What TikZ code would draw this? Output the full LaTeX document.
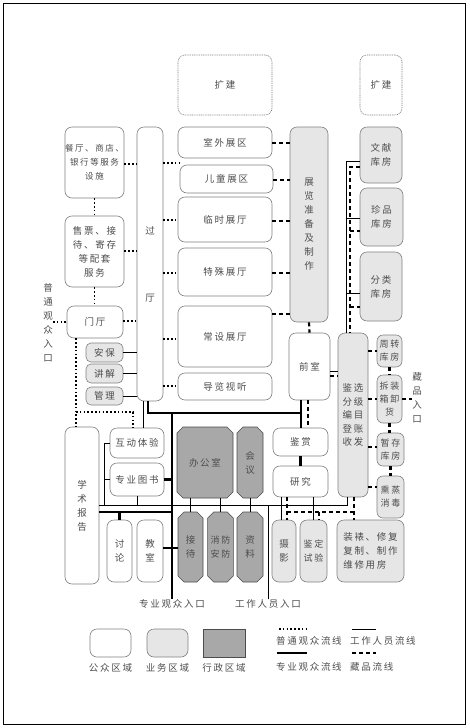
\documentclass[tikz,border=0pt]{standalone}
\usepackage{fontspec}
\newfontfamily\cjk[LetterSpace=18]{Noto Sans CJK SC}
\usetikzlibrary{shapes.misc}

\definecolor{busfill}{HTML}{E6E6E6}
\definecolor{admfill}{HTML}{A8A8A8}
\definecolor{zoneline}{HTML}{808080}
\definecolor{zonetext}{HTML}{4D4D4D}

\tikzset{
    zone/.style={draw=zoneline, line width=0.6pt, rounded corners=7pt,
        align=center, inner sep=0pt, text=zonetext,
        font=\cjk\fontsize{9.5}{14}\selectfont},
    pubzone/.style={zone, fill=white},
    buszone/.style={zone, fill=busfill},
    admzone/.style={zone, fill=admfill, draw=gray!60!black, sharp corners,
        chamfered rectangle, chamfered rectangle xsep=3pt,
        chamfered rectangle ysep=3pt},
    extzone/.style={zone, draw=gray, dash pattern=on 1pt off 0.8pt},
    roomtag/.style={text=zonetext, inner sep=0pt, align=center,
        font=\cjk\fontsize{9.5}{14}\selectfont},
    pubflow/.style={line width=1.6pt, dash pattern=on 1.6pt off 2.2pt},
    staffflow/.style={line width=0.8pt},
    proflow/.style={line width=2.8pt},
    colflow/.style={line width=2.2pt, dash pattern=on 4pt off 3pt},
}

\begin{document}
\begin{tikzpicture}[x=1pt, y=-1pt]
    \useasboundingbox (0,0) rectangle (470,728);
    % -- outer frame ---------------------------------------------------------
    \draw[line width=0.9pt] (3,3) rectangle (465,724);

    % -- extension plots -----------------------------------------------------
    \node[extzone, minimum width=94pt, minimum height=60pt] (ext1) at (225,85) {扩建};
    \node[extzone, minimum width=42pt, minimum height=60pt] (ext2) at (381,85) {扩建};

    % -- public services and foyer -------------------------------------------
    \node[pubzone, minimum width=59pt, minimum height=71pt,
        font=\cjk\fontsize{8.5}{14}\selectfont] (cant) at (94.5,162.5) {餐厅、商店、\\银行等服务\\设施};
    \node[pubzone, minimum width=59pt, minimum height=71pt] (tick) at (94.5,251.5) {售票、接\\待、寄存\\等配套\\服务};
    \node[pubzone, minimum width=56pt, minimum height=32pt] (foyer) at (95,322) {门厅};
    \node[buszone, rounded corners=5pt, minimum width=37pt, minimum height=19pt] (sec) at (104.5,352.5) {安保};
    \node[buszone, rounded corners=5pt, minimum width=37pt, minimum height=19pt] (guide) at (104.5,373.5) {讲解};
    \node[buszone, rounded corners=5pt, minimum width=37pt, minimum height=18pt] (mgmt) at (104.5,396) {管理};
    \node[pubzone, minimum width=26pt, minimum height=274pt] (hall) at (150,264) {过\\[53pt]厅};

    % -- exhibition halls ----------------------------------------------------
    \node[pubzone, minimum width=94pt, minimum height=31pt] (outd) at (225,142.5) {室外展区};
    \node[pubzone, minimum width=93pt, minimum height=28pt] (kids) at (226.5,179) {儿童展区};
    \node[pubzone, minimum width=94pt, minimum height=45pt] (temp) at (225,219.5) {临时展厅};
    \node[pubzone, minimum width=94pt, minimum height=48pt] (spec) at (225,272) {特殊展厅};
    \node[pubzone, minimum width=94pt, minimum height=61pt] (perm) at (225,336.5) {常设展厅};
    \node[pubzone, minimum width=94pt, minimum height=27pt] (av) at (225,386.5) {导览视听};
    \node[buszone, minimum width=38pt, minimum height=195pt] (prep) at (309,224.5) {展\\览\\准\\备\\及\\制\\作};

    % -- research block ------------------------------------------------------
    \node[pubzone, minimum width=41pt, minimum height=67pt] (ante) at (309.5,366.5) {前室};
    \node[pubzone, minimum width=55pt, minimum height=28pt] (appr) at (300.5,442) {鉴赏};
    \node[pubzone, minimum width=55pt, minimum height=31pt] (res) at (300.5,481.5) {研究};
    \node[buszone, minimum width=30pt, minimum height=164pt, font=\cjk\fontsize{9.5}{13.5}\selectfont] (catal) at (353,415) {鉴选\\分级\\编目\\登账\\收发};

    % -- stores --------------------------------------------------------------
    \node[buszone, minimum width=42pt, minimum height=56pt] (doc) at (381,155) {文献\\库房};
    \node[buszone, minimum width=43pt, minimum height=58pt] (rare) at (381.5,217) {珍品\\库房};
    \node[buszone, minimum width=42pt, minimum height=69pt] (class) at (381,286.5) {分类\\库房};
    \node[buszone, rounded corners=6pt, minimum width=25pt, minimum height=32pt, font=\cjk\fontsize{9}{13}\selectfont] (turn) at (389.5,351) {周转\\库房};
    \node[buszone, rounded corners=6pt, minimum width=25pt, minimum height=48pt, font=\cjk\fontsize{9}{13}\selectfont] (unpk) at (389.5,399) {拆装\\箱卸\\货};
    \node[buszone, rounded corners=6pt, minimum width=27pt, minimum height=33pt, font=\cjk\fontsize{9}{13}\selectfont] (hold) at (390.5,449.5) {暂存\\库房};
    \node[buszone, rounded corners=6pt, minimum width=27pt, minimum height=42pt, font=\cjk\fontsize{9}{13}\selectfont] (fumi) at (390.5,497) {熏蒸\\消毒};

    % -- lower wing ----------------------------------------------------------
    \node[pubzone, minimum width=34pt, minimum height=157pt] (lect) at (82,505.5) {学\\术\\报\\告};
    \node[pubzone, minimum width=54pt, minimum height=30pt] (inter) at (137,443) {互动体验};
    \node[pubzone, minimum width=54pt, minimum height=33pt] (lib) at (137,479.5) {专业图书};
    \node[pubzone, minimum width=25pt, minimum height=62pt] (disc) at (119.5,551) {讨\\论};
    \node[pubzone, minimum width=26pt, minimum height=62pt] (room) at (150,551) {教\\室};
    \node[admzone, minimum width=56pt, minimum height=71pt] (office) at (205,462.5) {办公室};
    \node[admzone, minimum width=26pt, minimum height=71pt] (meet) at (250,462.5) {会\\议};
    \node[admzone, minimum width=25pt, minimum height=70pt] (recp) at (190.5,547) {接\\待};
    \node[admzone, minimum width=25pt, minimum height=70pt, font=\cjk\fontsize{9}{14}\selectfont] (fire) at (220.5,547) {消防\\安防};
    \node[admzone, minimum width=26pt, minimum height=70pt] (arch) at (250,547) {资\\料};
    \node[buszone, minimum width=24pt, minimum height=62pt] (photo) at (284,551) {摄\\影};
    \node[buszone, minimum width=27pt, minimum height=62pt, font=\cjk\fontsize{9}{14}\selectfont] (test) at (313.5,551) {鉴定\\试验};
    \node[buszone, minimum width=67pt, minimum height=62pt, align=left] (repair) at (370.5,551) {装裱、修复\\复制、制作\\维修用房};

    % -- entrances -----------------------------------------------------------
    \node[roomtag] (entpub) at (48,323) {普\\通\\观\\众\\入\\口};
    \node[roomtag] (entcol) at (417,398) {藏\\品\\入\\口};
    \node[roomtag] (entpro) at (172,604) {专业观众入口};
    \node[roomtag] (entstaff) at (268,604) {工作人员入口};

    % -- public visitor flow (dotted) ----------------------------------------
    \draw[pubflow] (cant.east |- 0,164) -- (hall.west |- 0,164);
    \draw[pubflow] (tick.east |- 0,251) -- (hall.west |- 0,251);
    \draw[pubflow] (foyer.east |- 0,321) -- (hall.west |- 0,321);
    \draw[pubflow] (hall.east |- 0,163) -- (kids.west |- 0,163);
    \foreach \hallname/\y in {temp/220, spec/273, perm/339, av/386} {
        \draw[pubflow] (hall.east |- 0,\y) -- (\hallname.west |- 0,\y);
    }
    \draw[pubflow] (cant.south) -- (tick.north);
    \draw[pubflow] (tick.south) -- (tick.south |- foyer.north);
    \draw[pubflow] (entpub.east |- foyer.west) -- (foyer.west);
    \coordinate (pubsplit) at (76,412);
    \coordinate (pubturn) at (133,412);
    \draw[pubflow] (foyer.south -| pubsplit) -- (lect.north -| pubsplit);
    \draw[pubflow] (pubsplit) -- (pubturn) -- (pubturn |- inter.north);

    % -- staff flow (thin) ---------------------------------------------------
    \foreach \desk in {sec, guide, mgmt} {
        \draw[staffflow] (\desk.east) -- (\desk.east -| hall.west);
    }
    \draw[staffflow] (hall.south -| 143,0) -- (inter.north -| 143,0);
    \coordinate (staffleft) at (104,505);
    \coordinate (staffright) at (347,505);
    \draw[staffflow] (inter.west) -- (inter.west -| staffleft) -- (staffleft);
    \draw[staffflow] (lib.west) -- (lib.west -| staffleft);
    \draw[staffflow] (lib.south) -- (lib.south |- staffright);
    \draw[staffflow] (lect.east |- staffright) -- (staffright) -- (staffright |- catal.south);
    \draw[staffflow] (recp.north) -- (recp.north |- office.south);
    \draw[staffflow] (fire.north) -- (fire.north |- office.south);
    \draw[staffflow] (arch.north) -- (meet.south);
    \draw[staffflow] (entstaff.north) -- (entstaff.north |- staffright);
    \draw[staffflow] (res.south -| 281,0) -- (photo.north -| 281,0);
    \draw[staffflow] (res.south -| 313,0) -- (test.north -| 313,0);
    \draw[staffflow] (ante.east |- 0,371) -- (catal.west |- 0,371);
    \coordinate (stafftop) at (346,161);
    \draw[staffflow] (doc.west |- stafftop) -- (stafftop) -- (stafftop |- catal.north);
    \draw[staffflow] (stafftop |- 0,218) -- (rare.west |- 0,218);
    \draw[staffflow] (stafftop |- 0,293) -- (class.west |- 0,293);

    % -- professional visitor flow (thick) -----------------------------------
    \coordinate (protop) at (148,413);
    \coordinate (prodown) at (172,413);
    \coordinate (projoin) at (301,413);
    \draw[proflow] (hall.south -| protop) -- (protop) -- (projoin);
    \draw[proflow] (ante.south -| projoin) -- (appr.north -| projoin);
    \draw[proflow] (appr.south) -- (res.north);
    \draw[proflow] (prodown) -- (prodown |- entpro.north);
    \draw[proflow] (lib.east) -- (lib.east -| prodown);
    \draw[proflow] (room.east |- 0,548) -- (recp.west |- 0,548);
    \draw[proflow] (lect.east |- 0,512) -- (prodown |- 0,512);
    \draw[proflow] (disc.north) -- (disc.north |- 0,512);

    % -- collection flow (dashed) --------------------------------------------
    \foreach \hallname/\y in {outd/143, kids/180, temp/221, spec/273, perm/314} {
        \draw[colflow] (\hallname.east |- 0,\y) -- (prep.west |- 0,\y);
    }
    \draw[colflow] (prep.south) -- (ante.north);
    \draw[colflow] (ante.east |- 0,376) -- (catal.west |- 0,376);
    \draw[colflow] (ante.south -| 308,0) -- (appr.north -| 308,0);
    \coordinate (coltop) at (350,167);
    \draw[colflow] (doc.west |- coltop) -- (coltop) -- (coltop |- catal.north);
    \draw[colflow] (coltop |- 0,231) -- (rare.west |- 0,231);
    \draw[colflow] (coltop |- 0,307) -- (class.west |- 0,307);
    \draw[colflow] (catal.east |- turn.west) -- (turn.west);
    \draw[colflow] (catal.east |- unpk.west) -- (unpk.west);
    \draw[colflow] (catal.east |- 0,447) -- (hold.west |- 0,447);
    \draw[colflow] (catal.east |- 0,487) -- (fumi.west |- 0,487);
    \draw[colflow] (turn.south) -- (unpk.north);
    \draw[colflow] (unpk.south) -- (unpk.south |- hold.north);
    \draw[colflow] (hold.south) -- (fumi.north);
    \draw[colflow] (unpk.east) -- (entcol.west |- unpk.east);
    \coordinate (colleft) at (287,512);
    \coordinate (coltest) at (319,512);
    \coordinate (colbot) at (354,512);
    \draw[colflow] (res.south -| colleft) -- (colleft |- photo.north);
    \draw[colflow] (colleft) -- (colbot);
    \draw[colflow] (catal.south -| colbot) -- (colbot |- repair.north);
    \draw[colflow] (coltest) -- (coltest |- test.north);

    % -- legend: zone types --------------------------------------------------
    \node[pubzone, minimum width=41pt, minimum height=28pt] (legpub) at (110.5,643) {};
    \node[buszone, minimum width=41pt, minimum height=28pt] (legbus) at (167.5,643) {};
    \node[admzone, minimum width=42pt, minimum height=28pt] (legadm) at (224,643) {};
    \node[roomtag] (legpubtxt) at (110.5,668) {公众区域};
    \node[roomtag] (legbustxt) at (167.5,668) {业务区域};
    \node[roomtag] (legadmtxt) at (224,668) {行政区域};

    % -- legend: flow types --------------------------------------------------
    \coordinate (lpa) at (279,629);  \coordinate (lpb) at (307,629);
    \coordinate (lsa) at (352,629);  \coordinate (lsb) at (376,629);
    \coordinate (lra) at (277,653);  \coordinate (lrb) at (307,653);
    \coordinate (lca) at (352,653);  \coordinate (lcb) at (376,653);
    \draw[pubflow] (lpa) -- (lpb);
    \draw[staffflow] (lsa) -- (lsb);
    \draw[proflow] (lra) -- (lrb);
    \draw[colflow] (lca) -- (lcb);
    \node[roomtag, anchor=west] (legpubflow) at (276,641) {普通观众流线};
    \node[roomtag, anchor=west] (legstaffflow) at (350,641) {工作人员流线};
    \node[roomtag, anchor=west] (legproflow) at (276,667) {专业观众流线};
    \node[roomtag, anchor=west] (legcolflow) at (350,667) {藏品流线};
\end{tikzpicture}
\end{document}
